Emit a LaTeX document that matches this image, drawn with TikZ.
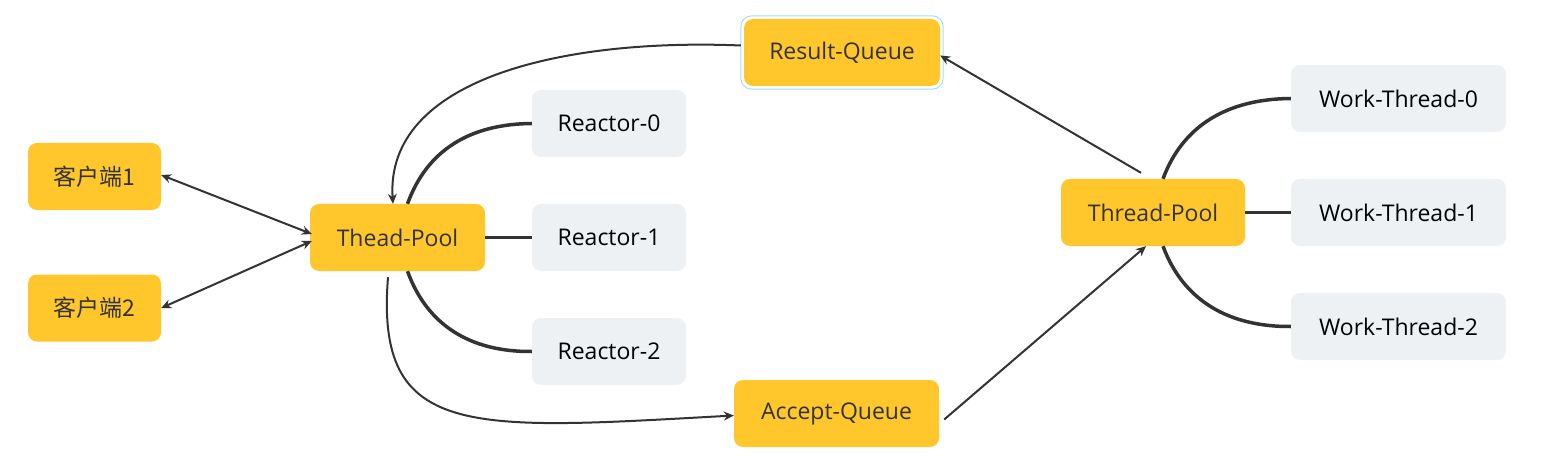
\documentclass[tikz,border=0pt]{standalone}
\usepackage{fontspec}
\setmainfont{Open Sans}
\newfontfamily\cjk{Noto Sans CJK SC}
\usetikzlibrary{arrows.meta}
\definecolor{yel}{HTML}{FFC72C}
\definecolor{gry}{HTML}{EEF1F4}
\definecolor{ln}{HTML}{333333}
\definecolor{sel}{HTML}{A9DDF5}
\newcommand{\nodetxt}[1]{\raisebox{-1.5pt}{#1}}
\begin{document}
\begin{tikzpicture}[x=1pt,y=-1pt,
  box/.style={rectangle,rounded corners=9pt,inner sep=0pt,minimum height=67pt,font=\fontsize{23}{26}\selectfont},
  ybox/.style={box,fill=yel,text=ln},
  gbox/.style={box,fill=gry,text=black},
  thick link/.style={draw=ln,line width=3.5pt},
  arr/.style={draw=ln,line width=2pt,-{Stealth[length=10pt,width=9pt]}},
  darr/.style={draw=ln,line width=2pt,{Stealth[length=10pt,width=9pt]}-{Stealth[length=10pt,width=9pt]}}]
\useasboundingbox (0,0) rectangle (1541,465);
\fill[white] (0,0) rectangle (1541,465);
% nodes
\node[ybox,minimum width=133pt] (c1) at (94.5,176.5) {\nodetxt{\cjk 客户端1}};
\node[ybox,minimum width=133pt] (c2) at (94.5,308) {\nodetxt{\cjk 客户端2}};
\node[ybox,minimum width=175pt] (thp) at (397.5,237.5) {\nodetxt{Thead-Pool}};
\node[gbox,minimum width=154pt] (r0) at (609,123.5) {\nodetxt{Reactor-0}};
\node[gbox,minimum width=154pt] (r1) at (609,237.5) {\nodetxt{Reactor-1}};
\node[gbox,minimum width=154pt] (r2) at (609,351.5) {\nodetxt{Reactor-2}};
\node[ybox,minimum width=196pt] (rq) at (842,52.5) {\nodetxt{Result-Queue}};
\draw[sel,line width=1pt,rounded corners=11pt] ([xshift=-3pt,yshift=3pt]rq.north west) rectangle ([xshift=3pt,yshift=-3pt]rq.south east);
\node[ybox,minimum width=205pt] (aq) at (836.5,413.5) {\nodetxt{Accept-Queue}};
\node[ybox,minimum width=184pt] (tp) at (1153,212.5) {\nodetxt{Thread-Pool}};
\node[gbox,minimum width=215pt] (w0) at (1398.5,98.5) {\nodetxt{Work-Thread-0}};
\node[gbox,minimum width=215pt] (w1) at (1398.5,212.5) {\nodetxt{Work-Thread-1}};
\node[gbox,minimum width=215pt] (w2) at (1398.5,326.5) {\nodetxt{Work-Thread-2}};
% thick tree links
\draw[thick link] ([xshift=10pt]thp.north) .. controls (427,150) and (470,124) .. (r0.west);
\draw[thick link] (thp.east) -- (r1.west);
\draw[thick link] ([xshift=10pt]thp.south) .. controls (427,325) and (470,352) .. (r2.west);
\draw[thick link] ([xshift=10pt]tp.north) .. controls (1183,125) and (1228,99) .. (w0.west);
\draw[thick link] (tp.east) -- (w1.west);
\draw[thick link] ([xshift=10pt]tp.south) .. controls (1183,300) and (1228,327) .. (w2.west);
% arrows
\draw[darr] ([yshift=1.5pt]c1.east) -- ([xshift=2pt,yshift=3.5pt]thp.west);
\draw[darr] (c2.east) -- ([xshift=2pt,yshift=-3.5pt]thp.west);
\draw[arr] ([xshift=-3pt,yshift=7pt]rq.west) .. controls (560,38) and (385,80) .. ([xshift=-4.5pt]thp.north);
\draw[arr] ([xshift=-9.5pt,yshift=-6pt]thp.south) .. controls (375,440) and (470,430) .. ([yshift=-2pt]aq.west);
\draw[arr] ([xshift=5pt,yshift=-6pt]aq.east) -- ([xshift=-7pt]tp.south);
\draw[arr] ([xshift=-12pt,yshift=6pt]tp.north) -- ([yshift=-3pt]rq.east);
\end{tikzpicture}
\end{document}
